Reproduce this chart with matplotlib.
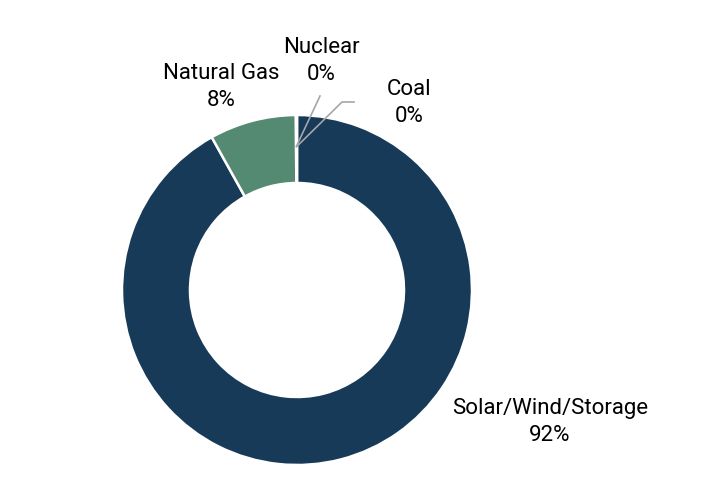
import numpy as np
import matplotlib.pyplot as plt

plt.rcParams['font.family'] = ['Roboto', 'DejaVu Sans']

# data
sources = ['Solar/Wind/Storage', 'Natural Gas', 'Nuclear', 'Coal']
shares = [91.9, 8.0, 0.05, 0.05]
colors = ['#173a59', '#548a72', '#548a72', '#173a59']

fig = plt.figure(figsize=(7.08, 4.95), dpi=100)
ax = fig.add_axes([0, 0, 1, 1])

cx, cy, r = 297, 205, 175
wedges, _ = ax.pie(shares, colors=colors, startangle=90, counterclock=False,
                   center=(cx, cy), radius=r,
                   wedgeprops=dict(width=68, edgecolor='white', linewidth=1.8),
                   frame=True)
ax.set_xlim(0, 708)
ax.set_ylim(0, 495)
ax.set_aspect('equal')
ax.axis('off')

fs = 16
lbl = [f'{s}\n{round(v):.0f}%' for s, v in zip(sources, shares)]
ax.text(550, 73, lbl[0], ha='center', va='center', fontsize=fs, linespacing=1.4)
ax.text(221, 408, lbl[1], ha='center', va='center', fontsize=fs, linespacing=1.4)
ax.text(321, 434, lbl[2], ha='center', va='center', fontsize=fs, linespacing=1.4)
ax.text(409, 392, lbl[3], ha='center', va='center', fontsize=fs, linespacing=1.4)

# leader lines to the tiny wedges
for w, pts in [(wedges[2], [(320, 399)]), (wedges[3], [(342, 393), (354, 393)])]:
    ang = np.deg2rad((w.theta1 + w.theta2) / 2)
    px, py = cx + 0.82 * r * np.cos(ang), cy + 0.82 * r * np.sin(ang)
    xs = [px] + [p[0] for p in pts]
    ys = [py] + [p[1] for p in pts]
    ax.plot(xs, ys, color='#a6a6a6', linewidth=1.2)

fig.savefig('out.png', dpi=100)
